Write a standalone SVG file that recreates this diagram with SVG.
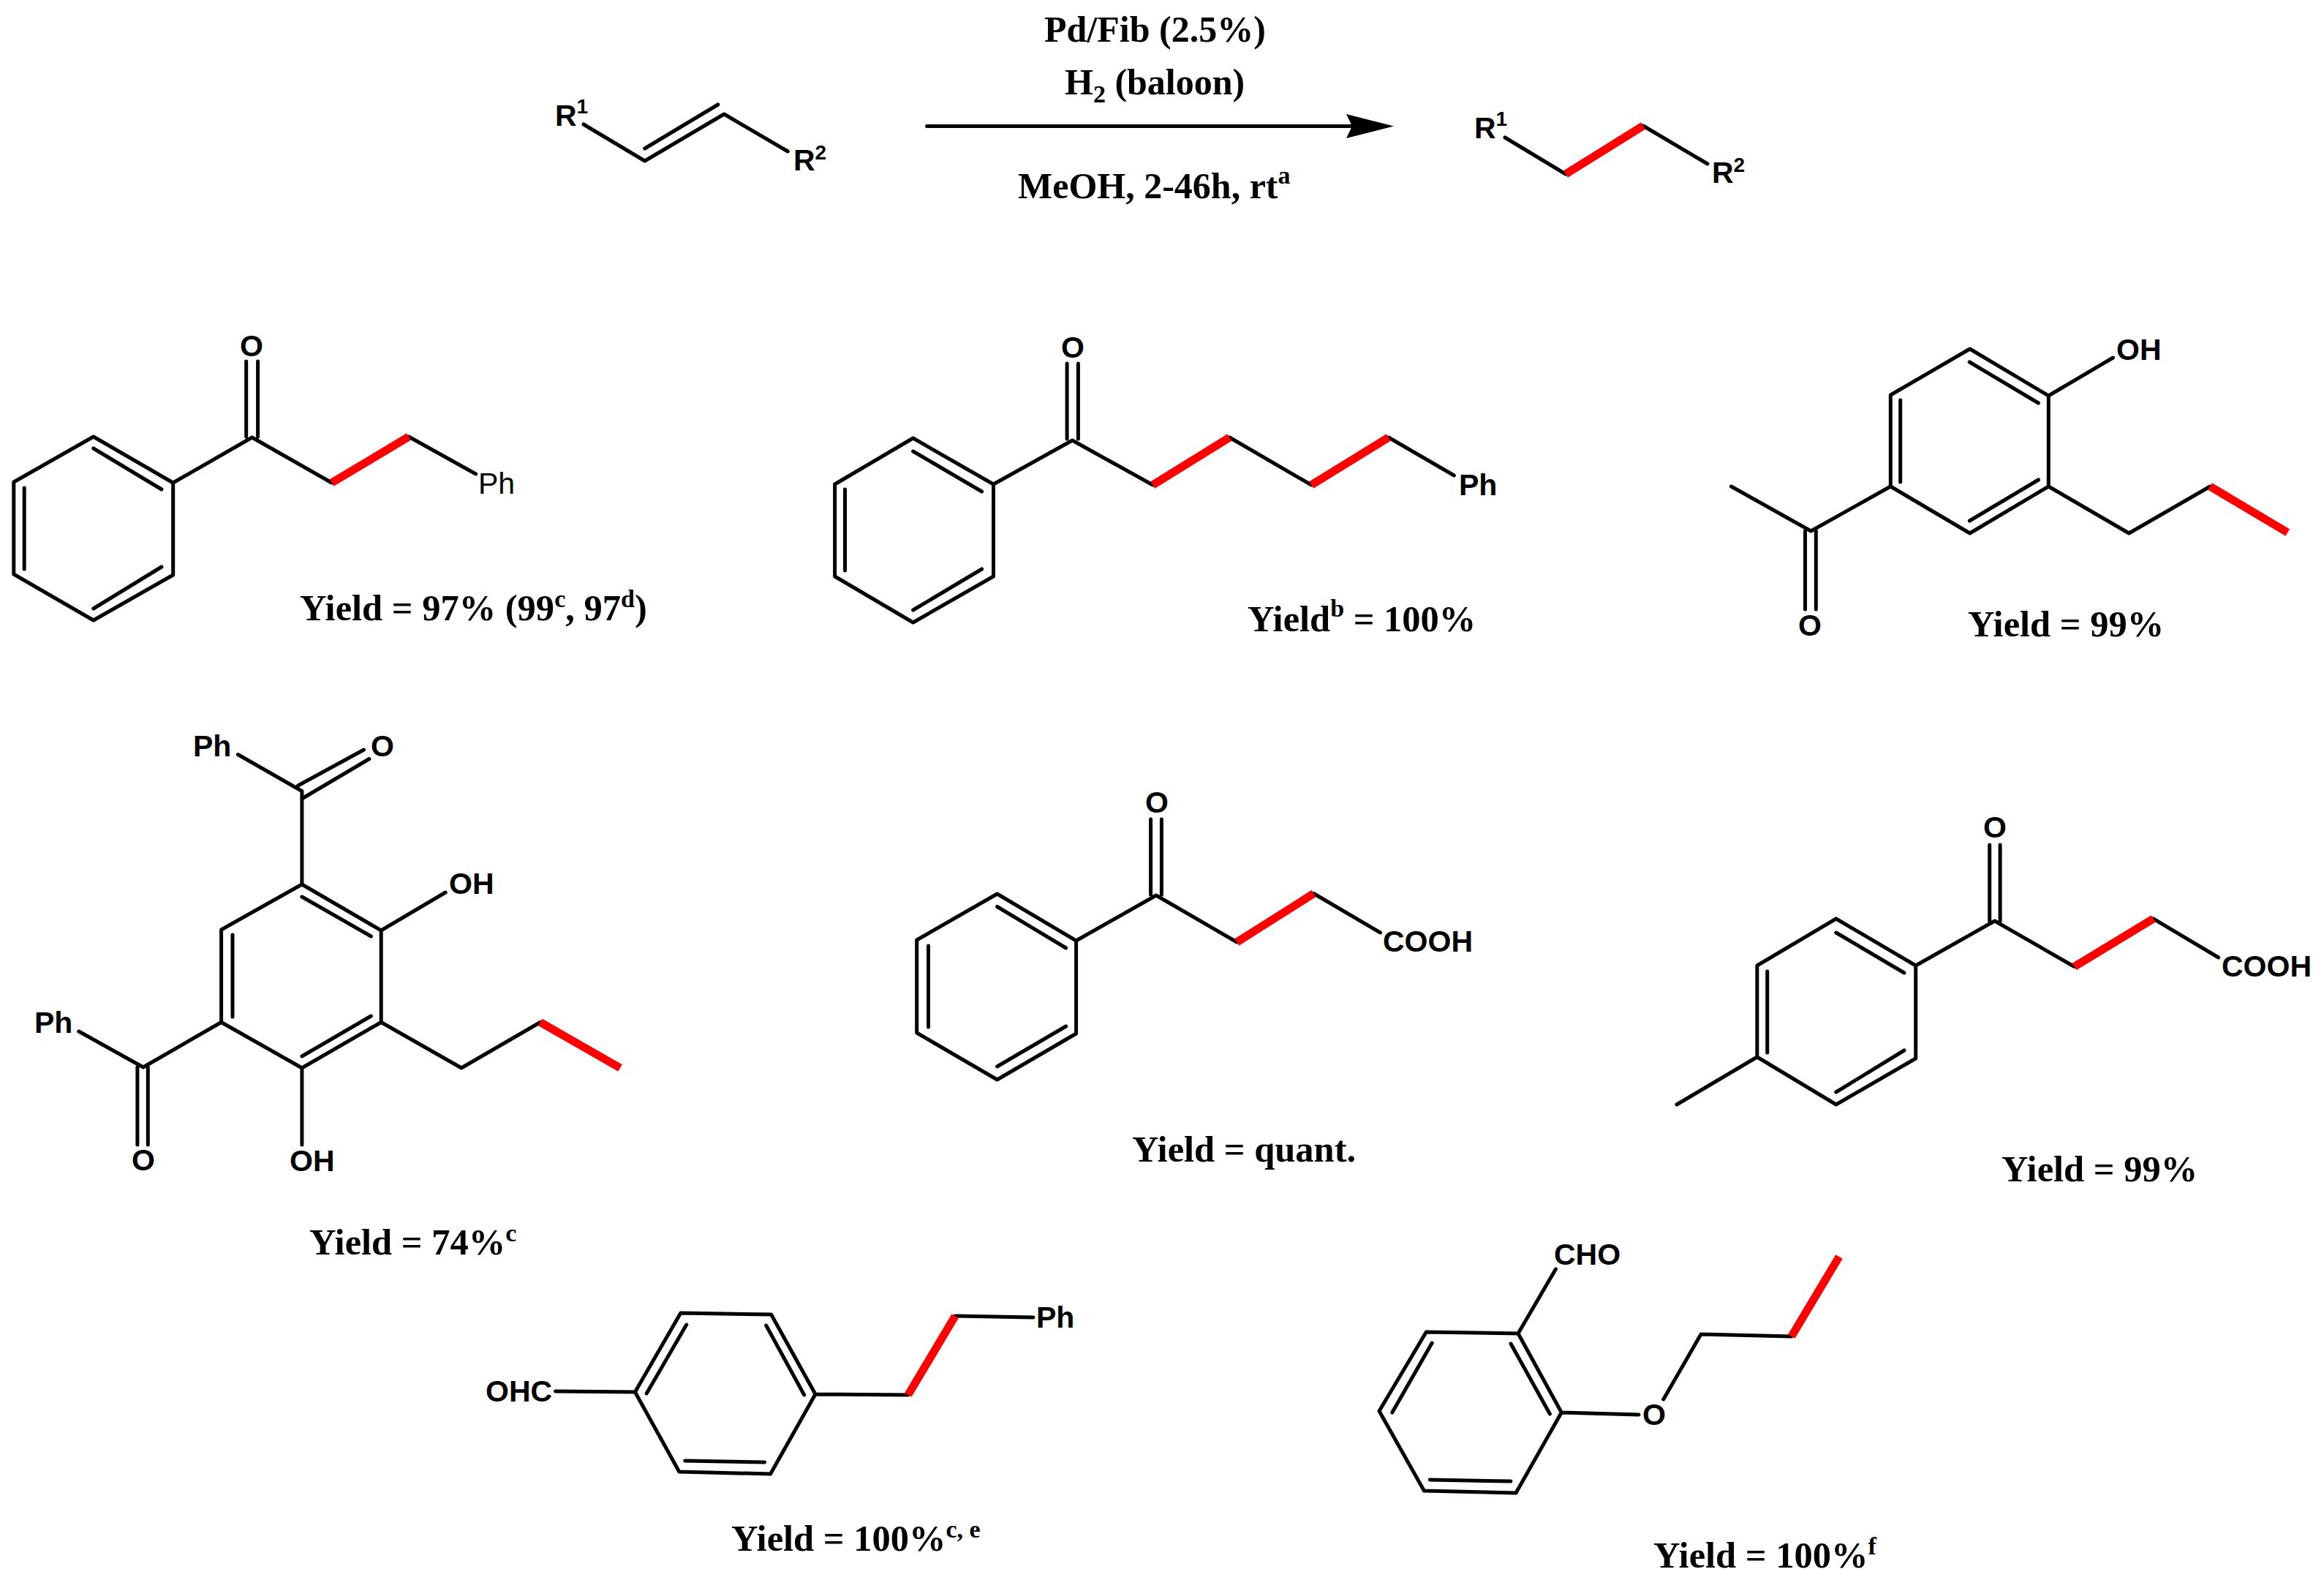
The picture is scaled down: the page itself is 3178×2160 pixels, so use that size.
<svg xmlns="http://www.w3.org/2000/svg" width="3178" height="2160" viewBox="0 0 3178 2160">
<style>
.b{fill:none;stroke:#000;stroke-width:5;stroke-linecap:round;stroke-linejoin:round}
.r{fill:none;stroke:#f00;stroke-width:11;stroke-linecap:butt}
.a{font-family:"Liberation Sans",Arial,sans-serif;font-size:41px;font-weight:700;fill:#000}
.n{font-weight:400}
.t{font-family:"Liberation Serif","Times New Roman",serif;font-size:50.500px;font-weight:700;fill:#000}
.c{font-size:50px}
.s{font-size:34px}
.q{font-size:28px}
</style>
<rect width="3178" height="2160" fill="#fff"/>
<g id="connectors">
<path class="b" d="M1267.500 172.500H1854"/>
<polygon points="1841,156 1906,172.500 1841,189 1849,172.500" fill="#000"/>
</g>
<g id="conditions">
<text class="t c" x="1428" y="57">Pd/Fib (2.5%)</text>
<text class="t c" x="1456" y="129">H<tspan class="s" dy="11">2</tspan><tspan dy="-11"> (baloon)</tspan></text>
<text class="t c" x="1392" y="271">MeOH, 2-46h, rt<tspan class="s" dy="-20">a</tspan></text>
</g>
<g id="reactant">
<path class="b" d="M798 170L881.700 220L990.200 156L1077.300 207M881.700 203L981.800 143"/>
<text class="a" x="759" y="172">R<tspan class="q" dy="-17">1</tspan></text>
<text class="a" x="1085" y="233">R<tspan class="q" dy="-15">2</tspan></text>
</g>
<g id="product">
<path class="b" d="M2058 188L2141 238M2247 172L2335 224"/>
<path class="r" d="M2141 238L2247 172"/>
<text class="a" x="2016" y="189">R<tspan class="q" dy="-17">1</tspan></text>
<text class="a" x="2341" y="250">R<tspan class="q" dy="-15">2</tspan></text>
</g>
<g id="compound-1">
<path class="b" d="M127.800 597L236.700 660V786L127.800 848L18.800 785V659ZM127.800 613L220.900 669M220.900 775L127.800 832M33.200 667V778M236.700 660L344.700 598L453.600 660M559 597L650.700 648M336.700 597V494M352.600 597V494"/>
<path class="r" d="M453.600 660L559 597"/>
<text class="a" x="344" y="487" text-anchor="middle">O</text>
<text class="a n" x="654" y="675">Ph</text>
<text class="t" x="410" y="848">Yield = 97% (99<tspan class="s" dy="-18">c</tspan><tspan dy="18">, 97</tspan><tspan class="s" dy="-18">d</tspan><tspan dy="18">)</tspan></text>
</g>
<g id="compound-2">
<path class="b" d="M1248.600 599L1358.500 662V788L1248.600 851L1141.600 788V662ZM1248.600 617L1342.600 672M1342.600 778L1248.600 834M1155.500 669V780M1358.500 662L1466.400 602L1576.400 663M1681.400 598L1793.300 663M1898.800 598L1988.400 650M1459.100 600V497M1474.400 600V497"/>
<path class="r" d="M1576.400 663L1681.400 598M1793.300 663L1898.800 598"/>
<text class="a" x="1467" y="489" text-anchor="middle">O</text>
<text class="a" x="1995" y="677">Ph</text>
<text class="t" x="1706" y="863">Yield<tspan class="s" dy="-20">b</tspan><tspan dy="20"> = 100%</tspan></text>
</g>
<g id="compound-3">
<path class="b" d="M2693.700 477L2801.300 541V665L2693.700 729L2585.300 665V540ZM2693.300 495L2787.400 551M2787.400 656L2693.300 712M2598.700 547V659M2801.300 541L2889.500 489M2801.300 665L2911.300 729L3022.200 665M2585.300 665L2476.400 726L2367.400 665M2468.500 726V833M2483.300 726V833"/>
<path class="r" d="M3022.200 665L3128.200 728"/>
<text class="a" x="2894" y="492">OH</text>
<text class="a" x="2475" y="869" text-anchor="middle">O</text>
<text class="t" x="2691" y="870">Yield = 99%</text>
</g>
<g id="compound-4">
<path class="b" d="M412.900 1209L521.200 1272V1397.500L412.900 1460L302.600 1397.500V1271ZM412.900 1226L507.400 1280M507.400 1389L412.900 1444M318 1278V1390M412.900 1209V1081.500L325.400 1031.500M407.500 1074L497.500 1025M414.400 1091L504.900 1037.500M521.200 1272L609.200 1220M521.200 1397.500L631 1460L738.800 1397.500M302.600 1397.500L195.800 1459L107.800 1410M187.900 1459V1565M202.300 1459V1565M412.900 1460V1565"/>
<path class="r" d="M738.800 1397.500L848 1460"/>
<text class="a" x="264" y="1034">Ph</text>
<text class="a" x="507" y="1034">O</text>
<text class="a" x="614" y="1222">OH</text>
<text class="a" x="47" y="1412">Ph</text>
<text class="a" x="180" y="1600">O</text>
<text class="a" x="396" y="1601">OH</text>
<text class="t" x="423" y="1715">Yield = 74%<tspan class="s" dy="-18">c</tspan></text>
</g>
<g id="compound-5">
<path class="b" d="M1363.600 1222L1471.600 1286V1413L1363.600 1476L1253.700 1412V1285ZM1363.600 1239.500L1457.700 1296M1457.700 1403L1363.600 1458M1269.500 1293V1404M1471.600 1286L1581 1224L1691.400 1288M1796.400 1221.500L1887.500 1275M1573.600 1223V1120M1588.400 1223V1120"/>
<path class="r" d="M1691.400 1288L1796.400 1221.500"/>
<text class="a" x="1582" y="1111" text-anchor="middle">O</text>
<text class="a" x="1891" y="1300.500">COOH</text>
<text class="t" x="1548" y="1588">Yield = quant.</text>
</g>
<g id="compound-6">
<path class="b" d="M2510.800 1256L2619.700 1320V1447L2510.800 1510L2402.800 1445V1320ZM2510.800 1275L2603.900 1330M2603.900 1436L2510.800 1493M2416.700 1328V1439M2402.800 1445L2292.900 1510M2619.700 1320L2727.700 1259L2836.600 1321.500M2944.600 1256L3033.700 1309M2720.700 1259V1155M2735.100 1259V1155"/>
<path class="r" d="M2836.600 1321.500L2944.600 1256"/>
<text class="a" x="2728" y="1145" text-anchor="middle">O</text>
<text class="a" x="3038" y="1335">COOH</text>
<text class="t" x="2737" y="1615">Yield = 99%</text>
</g>
<g id="compound-7">
<path class="b" d="M868.400 1903L930.800 1795L1054.600 1797L1115 1906L1053.600 2015L928.800 2012ZM884.200 1905L938.700 1811M1099.700 1907L1047.700 1812M936.700 1997L1045.700 1999M759.500 1902L868.400 1903M1115 1906L1241.800 1907M1306.200 1799L1413 1801"/>
<path class="r" d="M1241.800 1907L1306.200 1799"/>
<text class="a" x="664" y="1916">OHC</text>
<text class="a" x="1417" y="1815">Ph</text>
<text class="t" x="1000" y="2120">Yield = 100%<tspan class="s" dy="-18">c, e</tspan></text>
</g>
<g id="compound-8">
<path class="b" d="M1950.300 1821L2076 1823L2135.300 1931L2073 2041L1947.400 2038L1886 1929ZM2066 1837L2119.400 1933M1958.200 1836L1903.800 1931M1955.300 2023L2066 2025M2076 1823L2127.400 1735M2135.300 1931L2241 1934M2274.700 1913L2326 1824L2449.800 1827"/>
<path class="r" d="M2449.800 1827L2515 1718"/>
<text class="a" x="2125" y="1729">CHO</text>
<text class="a" x="2246" y="1948">O</text>
<text class="t" x="2261" y="2143">Yield = 100%<tspan class="s" dy="-18">f</tspan></text>
</g>
</svg>
